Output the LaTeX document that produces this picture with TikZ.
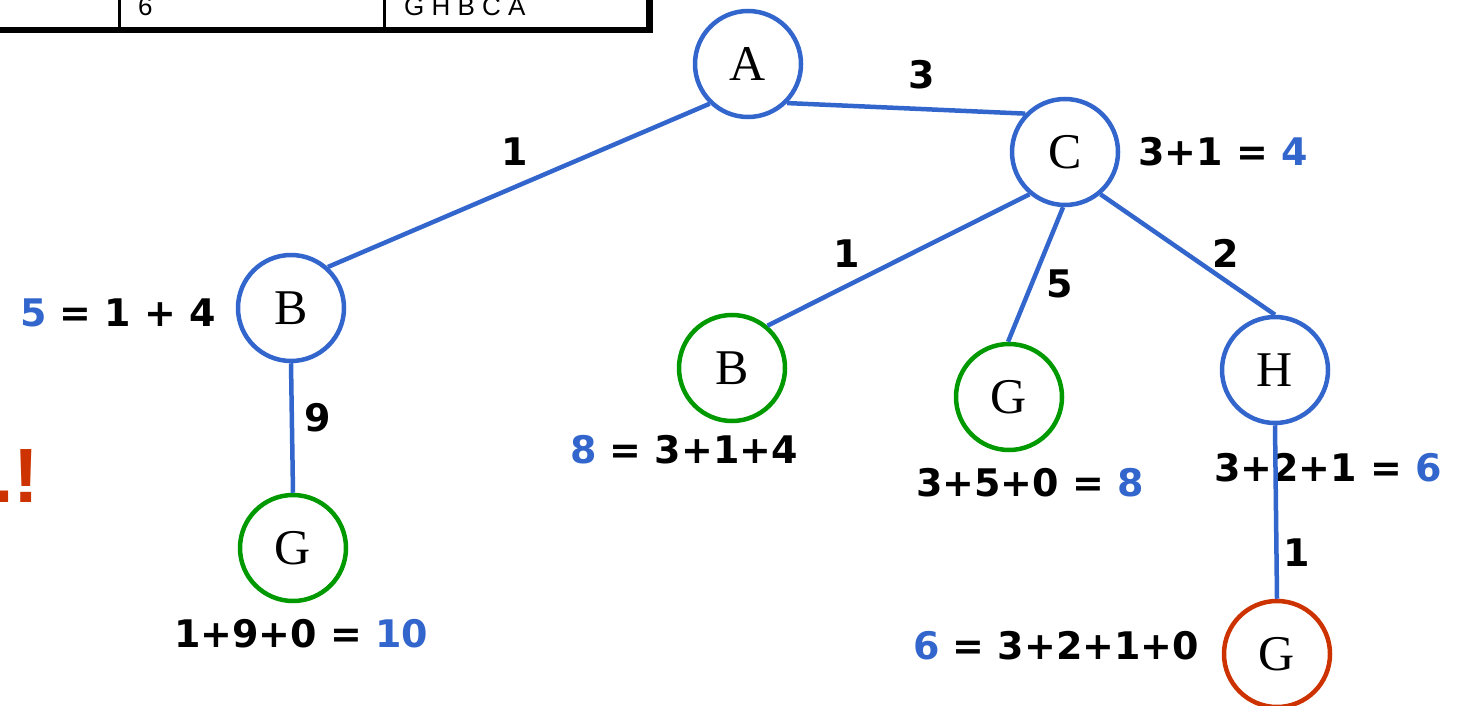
\documentclass[tikz,border=0pt]{standalone}
\usepackage{fontspec}
\setmainfont{Liberation Serif}
\setsansfont{DejaVu Sans}
\newfontfamily\tabfont{Liberation Sans}
\usetikzlibrary{calc}
\definecolor{nblue}{RGB}{51,102,204}
\definecolor{ngreen}{RGB}{0,153,0}
\definecolor{nred}{RGB}{204,51,0}
\tikzset{
  st/.style={circle,draw=nblue,line width=4.5pt,minimum size=106pt,inner sep=0pt,fill=white,font=\fontsize{50}{50}\selectfont},
  gst/.style={st,draw=ngreen},
  rst/.style={st,draw=nred},
  edge/.style={draw=nblue,line width=4.5pt},
  wt/.style={inner sep=0pt,font=\sffamily\bfseries\fontsize{38}{38}\selectfont},
  cost/.style={inner sep=0pt,anchor=west,font=\sffamily\bfseries\fontsize{38}{38}\selectfont},
  tline/.style={line width=6pt},
  tthin/.style={line width=3pt},
  ttext/.style={inner sep=0pt,anchor=base west,font=\tabfont\fontsize{26}{26}\selectfont}
}
\begin{document}
\begin{tikzpicture}[x=1pt,y=-1pt]
\useasboundingbox (0,0) rectangle (1459,706);
% table fragment
\coordinate (tl) at (-10,30);
\coordinate (tr) at (653,30);
\coordinate (rv) at (649.5,-10);
\coordinate (rb) at (649.5,33);
\draw[tline] (tl) -- (tr);
\draw[line width=7pt] (rv) -- (rb);
\coordinate (v1a) at (119,-5); \coordinate (v1b) at (119,28);
\coordinate (v2a) at (384.5,-5); \coordinate (v2b) at (384.5,28);
\draw[tthin] (v1a) -- (v1b);
\draw[tthin] (v2a) -- (v2b);
\node[ttext] (t6) at (138,15.5) {6};
\node[ttext] (tpath) at (404,15.5) {G H B C A};
% red exclamation
\node[inner sep=0pt,anchor=base west,text=nred,font=\tabfont\bfseries\fontsize{77}{77}\selectfont] (excl) at (-8,502) {.!};
% cost labels
\node[cost] (lc) at (1138,152) {3+1 = \textcolor{nblue}{4}};
\node[cost] (lb1) at (20,313) {\textcolor{nblue}{5} = 1 + 4};
\node[cost] (lb2) at (570,450) {\textcolor{nblue}{8} = 3+1+4};
\node[cost] (lg2) at (916,483) {3+5+0 = \textcolor{nblue}{8}};
\node[cost] (lh) at (1214,468) {3+2+1 = \textcolor{nblue}{6}};
\node[cost] (lg1) at (174,634) {1+9+0 = \textcolor{nblue}{10}};
\node[cost] (lg3) at (913,646) {\textcolor{nblue}{6} = 3+2+1+0};
% nodes
\node[st] (A) at (748,64) {A};
\node[st] (C) at (1065,152) {C};
\node[st] (B1) at (291,308) {B};
\node[gst] (G1) at (293,548) {G};
\node[gst] (B2) at (732,368) {B};
\node[gst] (G2) at (1009,397) {G};
\node[st] (H) at (1275,370) {H};
\node[rst] (G3) at (1277,654) {G};
% edges
\draw[edge] (A.-45) -- (C.136);
\draw[edge] (A.226) -- (B1.48);
\draw[edge] (C.230) -- (B2.50);
\draw[edge] (C.268) -- (G2.91);
\draw[edge] (C.310) -- (H.north);
\draw[edge] (B1.south) -- (G1.north);
\draw[edge] (H.south) -- (G3.north);
% edge weights
\node[wt] (w1) at (922,75) {3};
\node[wt] (w2) at (515,152) {1};
\node[wt] (w3) at (847,254) {1};
\node[wt] (w4) at (1060,284) {5};
\node[wt] (w5) at (1226,253) {2};
\node[wt] (w6) at (318,418) {9};
\node[wt] (w7) at (1297,553) {1};
\end{tikzpicture}
\end{document}
